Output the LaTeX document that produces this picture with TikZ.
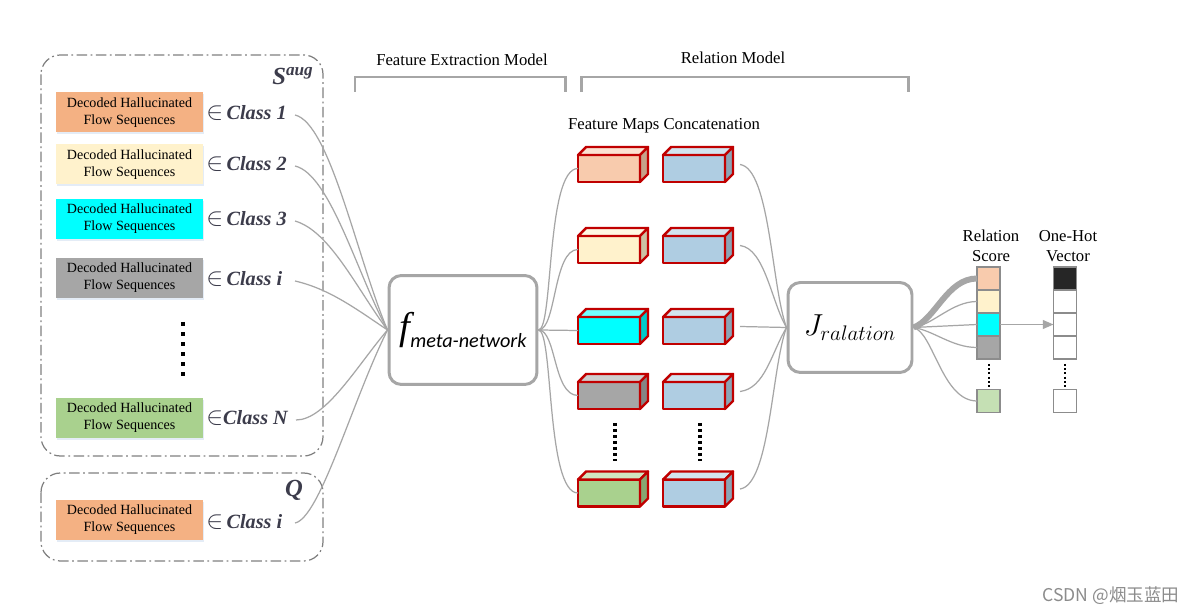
\documentclass[tikz,border=0pt]{standalone}
\usepackage{fontspec}
\setmainfont{Liberation Serif}
\newfontfamily\subsf{Carlito}
\newfontfamily\cjkfont{Noto Sans CJK SC}
\usetikzlibrary{arrows.meta,shadows}

\definecolor{linegray}{HTML}{A6A6A6}
\definecolor{framegray}{HTML}{A6A6A6}
\definecolor{dashgray}{HTML}{808080}
\definecolor{cellgray}{HTML}{8C8C8C}
\definecolor{cOrange}{HTML}{F4B183}
\definecolor{cPeach}{HTML}{F8CBAD}
\definecolor{cCream}{HTML}{FFF2CC}
\definecolor{cCyan}{HTML}{00FFFF}
\definecolor{cGray}{HTML}{A6A6A6}
\definecolor{cGreen}{HTML}{A9D18E}
\definecolor{cLGreen}{HTML}{C5E0B4}
\definecolor{cBlue}{HTML}{AFCDE2}
\definecolor{cRed}{HTML}{C00000}
\definecolor{cBlack}{HTML}{262626}
\definecolor{labelc}{HTML}{3C3C4B}
\definecolor{shadowc}{HTML}{B4CBE8}

\tikzset{
  seqbox/.style={minimum width=2.94cm, minimum height=0.8cm, inner sep=0pt,
    align=center, font=\fontsize{8}{9.6}\selectfont,
    drop shadow={shadow xshift=0.4pt, shadow yshift=-0.9pt, fill=shadowc, opacity=0.35}},
  classlbl/.style={anchor=west, inner sep=0pt, text=labelc,
    font=\fontsize{11.5}{13}\selectfont\bfseries\itshape},
  setframe/.style={draw=dashgray, line width=0.7pt, rounded corners=11pt,
    dash pattern=on 6pt off 2pt on 1pt off 2pt},
  procbox/.style={draw=framegray, line width=1.7pt, rounded corners=7pt, fill=white,
    minimum width=2.96cm, minimum height=2.18cm, inner sep=0pt},
  jbox/.style={draw=framegray, line width=1.7pt, rounded corners=7pt, fill=white,
    minimum width=2.48cm, minimum height=1.8cm, inner sep=0pt},
  cubefront/.style={draw=cRed, line width=1.4pt, line join=round,
    minimum width=1.24cm, minimum height=0.54cm, inner sep=0pt, outer sep=0pt},
  cubeedge/.style={draw=cRed, line width=1.4pt, line join=round},
  conn/.style={draw=linegray, line width=0.7pt},
  bracketline/.style={draw=framegray, line width=1.7pt},
  titletxt/.style={font=\fontsize{9.5}{11.4}\selectfont, inner sep=0pt, align=center},
  scell/.style={draw=cellgray, line width=0.6pt, minimum width=0.46cm,
    minimum height=0.46cm, inner sep=0pt, outer sep=0pt},
  bigdots/.style={line width=2.3pt, dash pattern=on 2.3pt off 3.4pt},
  middots/.style={line width=1.8pt, dash pattern=on 1.7pt off 1.7pt},
  smalldots/.style={line width=1.2pt, dash pattern=on 1.1pt off 1.3pt},
}

\newcommand\cubefaces[2]{%
  \draw[cubeedge, fill=#2!55!white] (#1.north west) -- ([shift={(8,-8)}]#1.north west)
     -- ([shift={(8,-8)}]#1.north east) -- (#1.north east) -- cycle;
  \draw[cubeedge, fill=#2!80!black] (#1.north east) -- ([shift={(8,-8)}]#1.north east)
     -- ([shift={(8,-8)}]#1.south east) -- (#1.south east) -- cycle;
}
\newcommand\elemof{{\fontsize{15}{15}\selectfont$\in$}}

\begin{document}
\begin{tikzpicture}[x=0.02cm, y=-0.02cm]
\useasboundingbox (0,0) rectangle (1203,614);
\fill[white] (0,0) rectangle (1203,614);

% ---------- set frames ----------
\draw[setframe] (41,55) rectangle (323,456);
\draw[setframe] (41,473) rectangle (323,561);
\node[text=labelc, inner sep=0pt, font=\fontsize{14}{14}\selectfont\bfseries\itshape]
  (saug) at (293,76) {S\textsuperscript{aug}};
\node[text=labelc, inner sep=0pt, font=\fontsize{14}{14}\selectfont\bfseries\itshape]
  (qlbl) at (294,490) {Q};

% ---------- sequence boxes ----------
\node[seqbox, fill=cOrange] (b1) at (129.5,112.5) {Decoded Hallucinated\\Flow Sequences};
\node[seqbox, fill=cCream]  (b2) at (129.5,164.5) {Decoded Hallucinated\\Flow Sequences};
\node[seqbox, fill=cCyan]   (b3) at (129.5,219) {Decoded Hallucinated\\Flow Sequences};
\node[seqbox, fill=cGray]   (b4) at (129.5,278) {Decoded Hallucinated\\Flow Sequences};
\node[seqbox, fill=cGreen]  (b5) at (129.5,418) {Decoded Hallucinated\\Flow Sequences};
\node[seqbox, fill=cOrange] (b6) at (129.5,520) {Decoded Hallucinated\\Flow Sequences};

\node[classlbl] (l1) at (206,113) {\elemof\,Class 1};
\node[classlbl] (l2) at (206,164) {\elemof\,Class 2};
\node[classlbl] (l3) at (206,219) {\elemof\,Class 3};
\node[classlbl] (l4) at (206,279) {\elemof\,Class \textit{i}};
\node[classlbl] (l5) at (206,418) {\elemof Class N};
\node[classlbl] (l6) at (206,522) {\elemof\,Class \textit{i}};

\draw[bigdots] (183,322) -- (183,382);

\coordinate (s1) at (295,115);
\coordinate (s2) at (295,166);
\coordinate (s3) at (295,221);
\coordinate (s4) at (295,281);
\coordinate (s5) at (296,420);
\coordinate (s6) at (295,523);

% ---------- titles / brackets ----------
\node[titletxt] (tfe) at (462,60) {Feature Extraction Model};
\node[titletxt] (trm) at (733,58) {Relation Model};
\draw[bracketline] (355,92) -- (355,77) -- (565,77) -- (565,92);
\draw[bracketline] (581,92) -- (581,77) -- (908,77) -- (908,92);
\node[titletxt] (tfm) at (664,126) {Feature Maps Concatenation};

% ---------- f meta-network ----------
\node[procbox] (fm) at (463,330)
  {\raisebox{5pt}{{\fontsize{22}{22}\selectfont\itshape f}\raisebox{-5pt}{\subsf\itshape\fontsize{11.5}{12}\selectfont meta-network}}};

\draw[conn] (s1) .. controls +(35,8) and +(-30,-70) .. (fm.west);
\draw[conn] (s2) .. controls +(35,8) and +(-30,-55) .. (fm.west);
\draw[conn] (s3) .. controls +(35,10) and +(-30,-40) .. (fm.west);
\draw[conn] (s4) .. controls +(35,8) and +(-30,-20) .. (fm.west);
\draw[conn] (s5) .. controls +(30,0) and +(-30,35) .. (fm.west);
\draw[conn] (s6) .. controls +(25,-5) and +(-35,70) .. (fm.west);

% ---------- cubes ----------
\node[cubefront, fill=cPeach] (c1) at (609,168.5) {};
\node[cubefront, fill=cCream] (c2) at (609,249.5) {};
\node[cubefront, fill=cCyan]  (c3) at (609,330.5) {};
\node[cubefront, fill=cGray]  (c4) at (609,395.5) {};
\node[cubefront, fill=cGreen] (c5) at (609,493) {};
\cubefaces{c1}{cPeach}
\cubefaces{c2}{cCream}
\cubefaces{c3}{cCyan}
\cubefaces{c4}{cGray}
\cubefaces{c5}{cGreen}

\node[cubefront, fill=cBlue] (d1) at (694,168.5) {};
\node[cubefront, fill=cBlue] (d2) at (694,249.5) {};
\node[cubefront, fill=cBlue] (d3) at (694,330.5) {};
\node[cubefront, fill=cBlue] (d4) at (694,395.5) {};
\node[cubefront, fill=cBlue] (d5) at (694,493) {};
\cubefaces{d1}{cBlue}
\cubefaces{d2}{cBlue}
\cubefaces{d3}{cBlue}
\cubefaces{d4}{cBlue}
\cubefaces{d5}{cBlue}

\draw[middots] (615,423) -- (615,461);
\draw[middots] (700,423) -- (700,461);

\draw[conn] (fm.east) .. controls +(15,0) and +(-32,0) .. (c1.west);
\draw[conn] (fm.east) .. controls +(18,0) and +(-25,0) .. (c2.west);
\draw[conn] (fm.east) -- (c3.west);
\draw[conn] (fm.east) .. controls +(18,0) and +(-25,0) .. (c4.west);
\draw[conn] (fm.east) .. controls +(15,0) and +(-32,0) .. (c5.west);

% ---------- J relation ----------
\node[jbox] (jr) at (850,327.5) {\fontsize{17}{17}\selectfont$J_{ralation}$};

\coordinate (r1) at ([shift={(15,-4)}]d1.east);
\coordinate (r2) at ([shift={(15,-4)}]d2.east);
\coordinate (r3) at ([shift={(15,-4)}]d3.east);
\coordinate (r4) at ([shift={(15,-4)}]d4.east);
\coordinate (r5) at ([shift={(15,-4)}]d5.east);
\draw[conn] (r1) .. controls +(30,4) and +(-15,-40) .. (jr.west);
\draw[conn] (r2) .. controls +(25,3) and +(-15,-25) .. (jr.west);
\draw[conn] (r3) -- (jr.west);
\draw[conn] (r4) .. controls +(25,-3) and +(-15,25) .. (jr.west);
\draw[conn] (r5) .. controls +(30,-4) and +(-15,40) .. (jr.west);

% ---------- relation score ----------
\node[titletxt] (trs) at (991,246) {Relation\\Score};
\node[titletxt] (toh) at (1068,246) {One-Hot\\Vector};

\node[scell, fill=cPeach] (e1) at (988.5,278.5) {};
\node[scell, fill=cCream] (e2) at (988.5,301.5) {};
\node[scell, fill=cCyan]  (e3) at (988.5,324.5) {};
\node[scell, fill=cGray]  (e4) at (988.5,347.5) {};
\node[scell, fill=cLGreen] (e5) at (988.5,401) {};
\draw[smalldots] (989,364) -- (989,387);

\node[scell, fill=cBlack] (h1) at (1065,278.5) {};
\node[scell, fill=white]  (h2) at (1065,301.5) {};
\node[scell, fill=white]  (h3) at (1065,324.5) {};
\node[scell, fill=white]  (h4) at (1065,347.5) {};
\node[scell, fill=white]  (h5) at (1065,401) {};
\draw[smalldots] (1065,364) -- (1065,387);

\draw[draw=linegray, line width=3.4pt] (jr.east) .. controls +(22,-8) and +(-30,0) .. (e1.west);
\draw[conn] (jr.east) .. controls +(20,-3) and +(-25,0) .. (e2.west);
\draw[conn] (jr.east) -- (e3.west);
\draw[conn] (jr.east) .. controls +(20,3) and +(-25,0) .. (e4.west);
\draw[conn] (jr.east) .. controls +(20,5) and +(-35,0) .. (e5.west);

\draw[conn, -{Triangle[length=6pt, width=5pt]}] (e3.east) -- (h3.west);

% ---------- watermark ----------
\node[text=black!45, inner sep=0pt, font=\cjkfont\fontsize{10}{12}\selectfont]
  (wm) at (1111,596) {CSDN @烟玉蓝田};
\end{tikzpicture}
\end{document}
